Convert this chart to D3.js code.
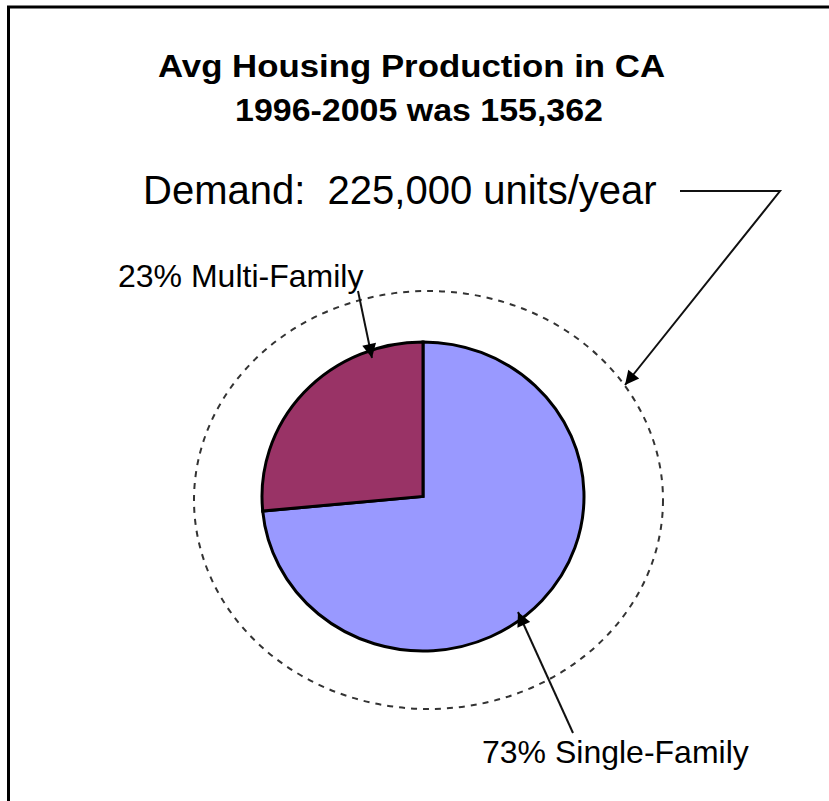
<!DOCTYPE html>
<html>
<head>
<meta charset="utf-8">
<script src="https://cdn.jsdelivr.net/npm/d3@7"></script>
<style>
  html, body { margin: 0; padding: 0; background: #fff; }
  text { font-family: "Liberation Sans", Arial, sans-serif; white-space: pre; }
</style>
</head>
<body>
<div id="chart"></div>
<script>
"use strict";

// data
let titleLines = ["Avg Housing Production in CA", "1996-2005 was 155,362"];
let demandText = "Demand:  225,000 units/year";
let categories = ["Single-Family", "Multi-Family"];
let shares = [73.5, 26.5];            // slice sizes as drawn
let labels = ["73% Single-Family", "23% Multi-Family"];
let colors = ["#9999ff", "#993366"];

// svg
let width = 829;
let height = 801;

let svg = d3.select("#chart")
  .append("svg")
  .attr("width", width)
  .attr("height", height);

// frame (top and left edges only)
svg.append("path")
  .attr("d", "M8.5,801 L8.5,7 L829,7")
  .attr("fill", "none")
  .attr("stroke", "#000")
  .attr("stroke-width", 3);

// arrow marker
svg.append("defs").append("marker")
  .attr("id", "arrow")
  .attr("viewBox", "0 0 10 10")
  .attr("refX", 10)
  .attr("refY", 5)
  .attr("markerWidth", 8)
  .attr("markerHeight", 7)
  .attr("markerUnits", "strokeWidth")
  .attr("orient", "auto")
  .append("path")
  .attr("d", "M0,0 L10,5 L0,10 Z")
  .attr("fill", "#000");

// titles
svg.append("text")
  .attr("x", 158).attr("y", 77)
  .attr("textLength", 507).attr("lengthAdjust", "spacingAndGlyphs")
  .style("font-size", "32px").style("font-weight", "bold")
  .text(titleLines[0]);

svg.append("text")
  .attr("x", 235).attr("y", 121)
  .attr("textLength", 368).attr("lengthAdjust", "spacingAndGlyphs")
  .style("font-size", "32px").style("font-weight", "bold")
  .text(titleLines[1]);

svg.append("text")
  .attr("x", 143).attr("y", 204)
  .style("font-size", "40px")
  .text(demandText);

// pie
let cx = 423, cy = 496.5, rx = 161, ry = 154.5;

let pie = d3.pie().sort(null).value(d => d);
let arc = d3.arc().innerRadius(0).outerRadius(rx);

let pieG = svg.append("g")
  .attr("transform", `translate(${cx},${cy}) scale(1,${ry / rx})`);

pieG.selectAll("path")
  .data(pie(shares))
  .enter()
  .append("path")
  .attr("d", arc)
  .attr("fill", (d, i) => colors[i])
  .attr("stroke", "#000")
  .attr("stroke-width", 3)
  .attr("vector-effect", "non-scaling-stroke")
  .attr("stroke-linejoin", "miter");

// dashed demand ring
svg.append("ellipse")
  .attr("cx", 428.5).attr("cy", 500)
  .attr("rx", 234.5).attr("ry", 209)
  .attr("fill", "none")
  .attr("stroke", "#333")
  .attr("stroke-width", 2)
  .attr("stroke-dasharray", "6,6");

// labels
svg.append("text")
  .attr("x", 118).attr("y", 287)
  .style("font-size", "32px")
  .text(labels[1]);

svg.append("text")
  .attr("x", 482).attr("y", 763)
  .style("font-size", "32px")
  .text(labels[0]);

// leader lines
let leader = (d) => svg.append("path")
  .attr("d", d)
  .attr("fill", "none")
  .attr("stroke", "#111")
  .attr("stroke-width", 2)
  .attr("marker-end", "url(#arrow)");

leader("M680,191 L780,191 L625,385");
leader("M358,291 L372,358");
leader("M573,733 L518,612");
</script>
</body>
</html>
